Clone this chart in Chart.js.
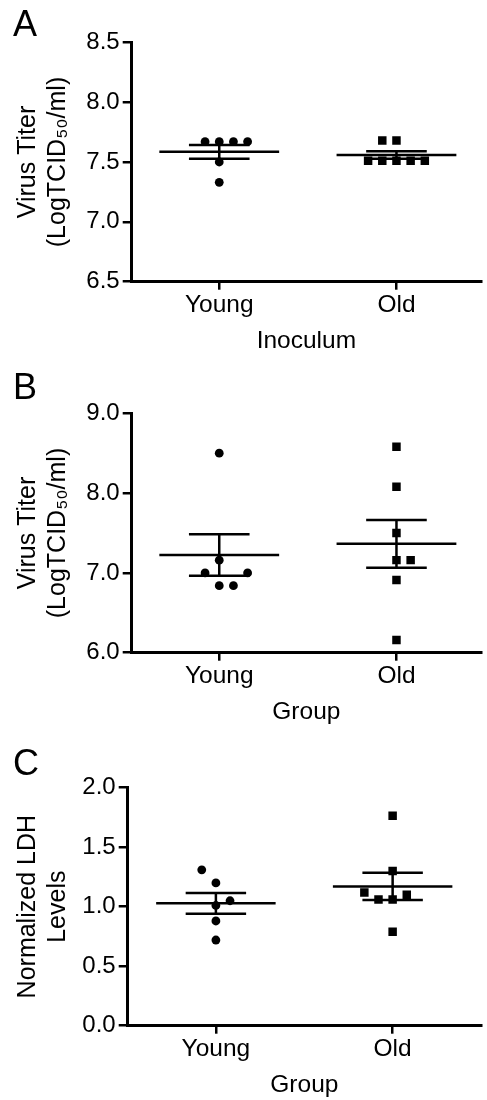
<!DOCTYPE html>
<html>
<head>
<meta charset="utf-8">
<script src="https://cdn.jsdelivr.net/npm/chart.js@4.4.1/dist/chart.umd.min.js"></script>
<style>
  html, body { margin: 0; padding: 0; background: #fff; }
  .panel { position: absolute; left: 0; width: 487px; }
</style>
</head>
<body>
<div class="panel" id="boxA"><canvas id="chartA"></canvas></div>
<div class="panel" id="boxB"><canvas id="chartB"></canvas></div>
<div class="panel" id="boxC"><canvas id="chartC"></canvas></div>
<script>
// Categories
const groups = ['Young', 'Old'];

// Panel A - virus titer of the inoculum
const inocYoung = [7.67, 7.67, 7.67, 7.67, 7.50, 7.33];
const inocOld = [7.68, 7.68, 7.51, 7.51, 7.51, 7.51, 7.51];
const ticksA = [6.5, 7.0, 7.5, 8.0, 8.5];

// Panel B - virus titer per group
const titerYoung = [8.50, 7.16, 7.00, 7.00, 6.84, 6.84];
const titerOld = [8.58, 8.08, 7.50, 7.16, 7.16, 6.91, 6.16];
const ticksB = [6.0, 7.0, 8.0, 9.0];

// Panel C - normalized LDH levels
const ldhYoung = [1.31, 1.20, 1.05, 1.01, 0.88, 0.72];
const ldhOld = [1.765, 1.30, 1.12, 1.10, 1.06, 1.06, 0.79];
const ticksC = [0.0, 0.5, 1.0, 1.5, 2.0];

// Horizontal spread of the dots (in dot widths), as laid out in the figure
const spreadInocYoung = [-1, 0, 1, 2, 0, 0];
const spreadInocOld = [-1, 0, -2, -1, 0, 1, 2];
const spreadTiterYoung = [0, 0, -1, 2, 0, 1];
const spreadTiterOld = [0, 0, 0, 0, 1, 0, 0];
const spreadLdhYoung = [-1, 0, 1, 0, 0, 0];
const spreadLdhOld = [0, 0, -2, 1, -1, 0, 0];

const FONT = "'Liberation Sans', Arial, Helvetica, sans-serif";
const DOT_STEP = 0.08;   // x units between neighbouring dots
const MEAN_HALF = 0.338; // half width of the mean line
const CAP_HALF = 0.171;  // half width of the SEM caps

Chart.defaults.font.family = FONT;
Chart.defaults.color = '#000';

// Mean and SEM of a group
function meanSem(vals) {
  const n = vals.length;
  const mean = vals.reduce((a, b) => a + b, 0) / n;
  const sd = Math.sqrt(vals.reduce((a, v) => a + (v - mean) ** 2, 0) / (n - 1));
  return { mean, sem: sd / Math.sqrt(n) };
}

function buildDatasets(seriesList, spreadList) {
  const sets = [];
  const seg = (x1, y1, x2, y2) => sets.push({
    data: [{ x: x1, y: y1 }, { x: x2, y: y2 }],
    showLine: true, borderColor: '#000', borderWidth: 2.5,
    pointRadius: 0, pointHoverRadius: 0
  });
  seriesList.forEach((vals, i) => {
    const cx = i + 1;
    const { mean, sem } = meanSem(vals);
    seg(cx - MEAN_HALF, mean, cx + MEAN_HALF, mean);
    seg(cx - CAP_HALF, mean + sem, cx + CAP_HALF, mean + sem);
    seg(cx - CAP_HALF, mean - sem, cx + CAP_HALF, mean - sem);
    seg(cx, mean - sem, cx, mean + sem);
    sets.push({
      data: vals.map((v, k) => ({ x: cx + spreadList[i][k] * DOT_STEP, y: v })),
      pointStyle: i === 0 ? 'circle' : 'rect',
      pointRadius: i === 0 ? 4.4 : 6,
      pointHoverRadius: i === 0 ? 4.4 : 6,
      backgroundColor: '#000', borderColor: '#000', borderWidth: 0
    });
  });
  return sets;
}

// Panel letter drawn in the top left corner
const panelLetter = {
  id: 'panelLetter',
  afterDraw(chart, args, opts) {
    const ctx = chart.ctx;
    ctx.save();
    ctx.font = '36px ' + FONT;
    ctx.fillStyle = '#000';
    ctx.textBaseline = 'alphabetic';
    ctx.fillText(opts.text, opts.x, opts.y);
    ctx.restore();
  }
};

const panels = [
  { id: 'A', top: 0, height: 366, plotTop: 42.3, plotBottom: 281.7, axisLeft: 131.7,
    xMin: 0.506, xMax: 2.477, yMin: 6.5, yMax: 8.5, yTicks: ticksA,
    yTitle: ['Virus Titer', '(LogTCID\u2085\u2080/ml)'], xTitle: 'Inoculum',
    series: [inocYoung, inocOld], spread: [spreadInocYoung, spreadInocOld], letterY: 36 },
  { id: 'B', top: 366, height: 366, plotTop: 413.3, plotBottom: 652.7, axisLeft: 131.7,
    xMin: 0.506, xMax: 2.477, yMin: 6.0, yMax: 9.0, yTicks: ticksB,
    yTitle: ['Virus Titer', '(LogTCID\u2085\u2080/ml)'], xTitle: 'Group',
    series: [titerYoung, titerOld], spread: [spreadTiterYoung, spreadTiterOld], letterY: 399 },
  { id: 'C', top: 732, height: 368, plotTop: 787.7, plotBottom: 1025.7, axisLeft: 127.7,
    xMin: 0.501, xMax: 2.5, yMin: 0.0, yMax: 2.0, yTicks: ticksC,
    yTitle: ['Normalized LDH', 'Levels'], xTitle: 'Group',
    series: [ldhYoung, ldhOld], spread: [spreadLdhYoung, spreadLdhOld], letterY: 775 }
];

panels.forEach(p => {
  const box = document.getElementById('box' + p.id);
  box.style.top = p.top + 'px';
  box.style.height = p.height + 'px';

  const padTop = p.plotTop - p.top;
  const xAxisHeight = p.top + p.height - p.plotBottom;

  new Chart(document.getElementById('chart' + p.id), {
    type: 'scatter',
    data: { datasets: buildDatasets(p.series, p.spread) },
    plugins: [panelLetter],
    options: {
      responsive: true,
      maintainAspectRatio: false,
      animation: false,
      events: [],
      layout: { padding: { top: padTop, left: 0, right: 0, bottom: 0 } },
      plugins: {
        legend: { display: false },
        tooltip: { enabled: false },
        panelLetter: { text: p.id, x: 13, y: p.letterY - p.top }
      },
      scales: {
        x: {
          type: 'linear', min: p.xMin, max: p.xMax,
          afterBuildTicks: s => { s.ticks = groups.map((g, i) => ({ value: i + 1 })); },
          afterFit: s => { s.height = xAxisHeight; },
          ticks: {
            callback: v => groups[Math.round(v) - 1],
            font: { size: 24.5 }, color: '#000', padding: 1,
            maxRotation: 0, autoSkip: false
          },
          grid: { display: true, drawOnChartArea: false, drawTicks: true,
                  tickLength: 8, lineWidth: 2.5, color: '#000' },
          border: { display: true, width: 3, color: '#000' },
          title: { display: true, text: p.xTitle, color: '#000',
                   font: { size: 24.5 }, padding: { top: 0, bottom: xAxisHeight - 74.3 } }
        },
        y: {
          type: 'linear', min: p.yMin, max: p.yMax,
          afterBuildTicks: s => { s.ticks = p.yTicks.map(v => ({ value: v })); },
          afterFit: s => { s.width = p.axisLeft; },
          ticks: {
            callback: v => v.toFixed(1),
            font: { size: 24 }, color: '#000', padding: 3
          },
          grid: { display: true, drawOnChartArea: false, drawTicks: true,
                  tickLength: 9, lineWidth: 2.5, color: '#000' },
          border: { display: true, width: 3, color: '#000' },
          title: { display: true, text: p.yTitle, color: '#000',
                   font: { size: 25, lineHeight: 1.2 }, padding: { top: 13, bottom: 0 } }
        }
      }
    }
  });
});
</script>
</body>
</html>
